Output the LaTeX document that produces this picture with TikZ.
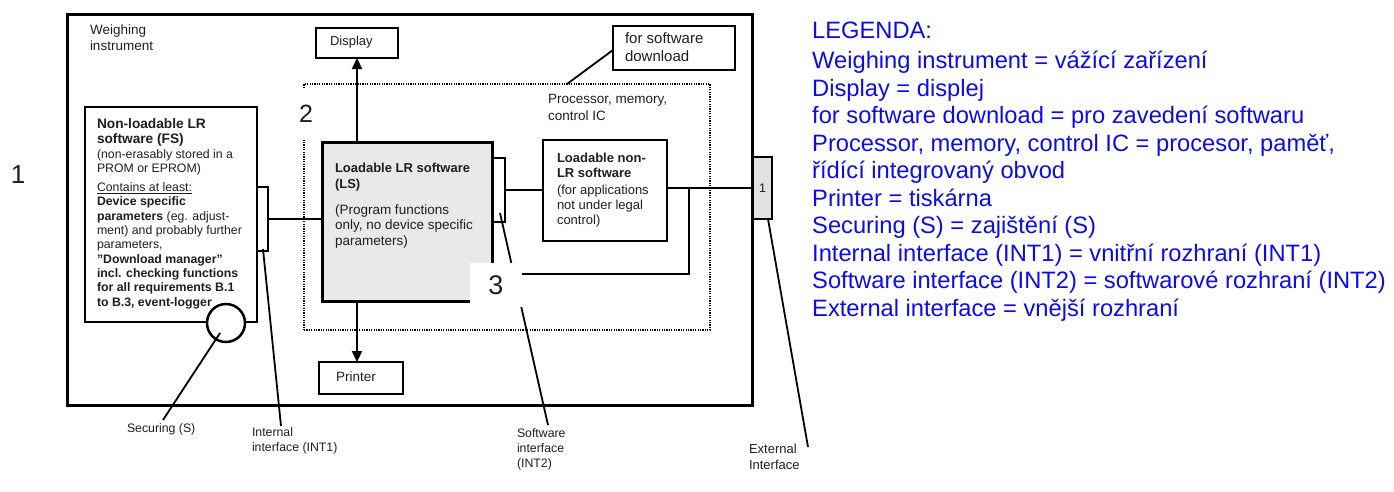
\documentclass[tikz,border=0pt]{standalone}
\usepackage{fontspec}
\setmainfont{Liberation Sans}
\usetikzlibrary{arrows.meta}
\definecolor{lgblue}{RGB}{12,12,235}
\definecolor{txt}{RGB}{30,30,30}
\definecolor{lsgray}{RGB}{233,233,233}
\definecolor{extgray}{RGB}{225,225,225}
\newcommand\fsz[2]{\fontsize{#1}{#2}\selectfont}
\tikzset{
  box/.style={draw, line width=2.5pt, inner sep=0pt, outer sep=0pt, anchor=north west},
  conn/.style={line width=2pt},
  lead/.style={line width=1.8pt},
  tx/.style={inner sep=0pt, outer sep=0pt, anchor=base west, align=left, text=txt},
  arr/.style={line width=2.2pt, -{Triangle[width=10pt,length=11pt]}},
  leg/.style={inner sep=0pt, anchor=base west, text=lgblue, font=\fsz{23.7}{27.5}},
  numlab/.style={fill=white, inner sep=0pt, outer sep=0pt, text=txt},
}
\begin{document}
\begin{tikzpicture}[x=1pt,y=-1pt]
\useasboundingbox (0,0) rectangle (1394,491);
% boxes
\node[box, line width=3pt, minimum width=685, minimum height=391] (wi) at (67,14) {};
\node[box, line width=2.4pt, dash pattern=on 1.2pt off 1.2pt, minimum width=406, minimum height=246] (proc) at (304,84) {};
\node[box, minimum width=172, minimum height=215] (fs) at (85,107) {};
\node[box, line width=2pt, minimum width=11, minimum height=64] (int1) at (257,187) {};
\node[box, line width=3pt, fill=lsgray, minimum width=170, minimum height=159] (ls) at (322,142) {};
\node[box, line width=2pt, minimum width=13, minimum height=64] (int2) at (492,158) {};
\node[box, minimum width=124, minimum height=101] (nlr) at (543,140) {};
\node[box, line width=2pt, fill=extgray, minimum width=19, minimum height=62, text=txt, font=\fsz{12.5}{14}] (ext) at (753,157) {1};
\node[box, minimum width=82, minimum height=30] (disp) at (316,28) {};
\node[box, minimum width=84, minimum height=32] (prn) at (319,362) {};
\node[box, line width=2pt, minimum width=122, minimum height=44] (dl) at (613,26) {};
\node[circle, draw, line width=2.5pt, fill=white, minimum size=38pt, inner sep=0pt, outer sep=0pt] (sec) at (226,323) {};
% connectors
\draw[conn] (int1.east) -- (int1.east -| ls.west);
\draw[conn] (int2.east) -- (int2.east -| nlr.west);
\draw[conn] (ext.west -| nlr.east) -- (ext.west);
\coordinate (br) at (689,188);
\coordinate (loopend) at (492,274);
\draw[conn] (br) |- (loopend);
\draw[arr] (disp.south |- ls.north) -- (disp.south);
\draw[arr] (disp.south |- ls.south) -- (disp.south |- prn.north);
% leader lines
\coordinate (secA) at (220,333); \coordinate (secB) at (163,420);
\coordinate (i1A) at (263,249);  \coordinate (i1B) at (281,426);
\coordinate (i2A) at (500,213);  \coordinate (i2B) at (548,425);
\coordinate (exA) at (768,219);  \coordinate (exB) at (808,447);
\coordinate (dlA) at (567,84);   \coordinate (dlB) at (613,50);
\draw[lead] (secA) -- (secB);
\draw[lead] (i1A) -- (i1B);
\draw[lead] (i2A) -- (i2B);
\draw[lead] (exA) -- (exB);
\draw[lead] (dlA) -- (dlB);
% number labels
\node[numlab, minimum width=24pt, minimum height=50pt, font=\fsz{25}{30}] (n2) at (306,114) {\raisebox{-3pt}{2}};
\node[numlab, minimum width=52pt, minimum height=44pt, font=\fsz{27}{30}] (n3) at (496,285) {\raisebox{-5pt}{3}};
\node[inner sep=0pt, text=txt, font=\fsz{26}{30}] (n1) at (18,175) {1};
% texts (anchor = baseline of the last line)
\node[tx, font=\fsz{13.5}{16}] (twi) at (90,50) {Weighing\\instrument};
\node[tx, font=\fsz{13.7}{15.7}\bfseries] (tfs1) at (97,143.7) {Non-loadable LR\\software (FS)};
\node[tx, font=\fsz{12.3}{14.2}] (tfs2) at (97,172.6) {(non-erasably stored in a\\PROM or EPROM)};
\node[tx, font=\fsz{12.3}{14.35}] (tfs3) at (97,306.2) {\underline{Contains at least:}\\\textbf{Device specific}\\\textbf{parameters} (eg. adjust-\\ment) and probably further\\parameters,\\\textbf{"Download manager"}\\\textbf{incl. checking functions}\\\textbf{for all requirements B.1}\\\textbf{to B.3, event-logger}};
\node[tx, font=\fsz{13}{16}\bfseries] (tls1) at (335,188.7) {Loadable LR software\\(LS)};
\node[tx, font=\fsz{13.5}{15.5}] (tls2) at (335,245) {(Program functions\\only, no device specific\\parameters)};
\node[tx, font=\fsz{13}{15}\bfseries] (tnl1) at (557,177.7) {Loadable non-\\LR software};
\node[tx, font=\fsz{13}{15}] (tnl2) at (557,224.7) {(for applications\\not under legal\\control)};
\node[tx, font=\fsz{13.5}{17}] (tproc) at (548,120) {Processor, memory,\\control IC};
\node[tx, font=\fsz{13}{15}] (tdisp) at (330,45.7) {Display};
\node[tx, font=\fsz{13.5}{15}] (tprn) at (336,381) {Printer};
\node[tx, font=\fsz{15}{18.5}] (tdl) at (625,61.9) {for software\\download};
\node[tx, font=\fsz{12.3}{15}] (tsec) at (127,432.5) {Securing (S)};
\node[tx, font=\fsz{12.3}{15}] (ti1) at (252,451.4) {Internal\\interface (INT1)};
\node[tx, font=\fsz{12.3}{15}] (ti2) at (517,467.4) {Software\\interface\\(INT2)};
\node[tx, font=\fsz{13}{16}] (tex) at (749,469.7) {External\\Interface};
% legend
\node[leg] (lg0) at (812,38.5) {LEGENDA:};
\node[leg] (lg1) at (812,68.5) {Weighing instrument = vážící zařízení};
\node[leg] (lg2) at (812,96) {Display = displej};
\node[leg] (lg3) at (812,123.5) {for software download = pro zavedení softwaru};
\node[leg] (lg4) at (812,151) {Processor, memory, control IC = procesor, paměť,};
\node[leg] (lg5) at (812,178.5) {řídící integrovaný obvod};
\node[leg] (lg6) at (812,206) {Printer = tiskárna};
\node[leg] (lg7) at (812,233.5) {Securing (S) = zajištění (S)};
\node[leg] (lg8) at (812,261) {Internal interface (INT1) = vnitřní rozhraní (INT1)};
\node[leg] (lg9) at (812,288.5) {Software interface (INT2) = softwarové rozhraní (INT2)};
\node[leg] (lg10) at (812,316) {External interface = vnější rozhraní};
\end{tikzpicture}
\end{document}
